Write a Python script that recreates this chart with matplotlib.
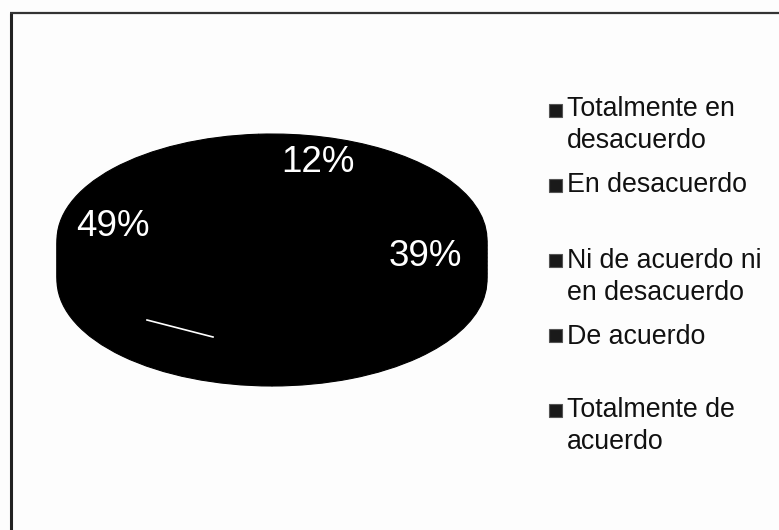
import matplotlib

matplotlib.use("Agg")
import matplotlib.pyplot as plt
from matplotlib.patches import Rectangle
from matplotlib.transforms import Affine2D

W, H = 779, 530

categories = [
    "Totalmente en\ndesacuerdo",
    "En desacuerdo",
    "Ni de acuerdo ni\nen desacuerdo",
    "De acuerdo",
    "Totalmente de\nacuerdo",
]
values = [12, 39, 0, 49, 0]
labels = ["12%", "39%", "", "49%", ""]
label_pos = [(318, 162), (425, 256), None, (113, 226), None]
legend_y = [110, 185, 262, 337, 411]
marker_y = [110, 185, 260, 335, 410]

plt.rcParams["font.family"] = ["Liberation Sans", "DejaVu Sans"]

fig = plt.figure(figsize=(W / 100, H / 100), dpi=100, facecolor="#fdfdfd")

# pixel coordinates, y pointing down, so everything lines up with the scan
ax = fig.add_axes([0, 0, 1, 1])

# the pie is stretched to an ellipse, stacked for the 3d side
cx, cy_top, rx, ry, depth = 272, 240, 215, 106, 40
for off in range(depth, -1, -4):
    wedges, _ = ax.pie(
        values,
        center=(cx, cy_top + off),
        radius=rx,
        colors=["black"] * len(values),
        startangle=90,
        counterclock=False,
        frame=True,
        wedgeprops={"edgecolor": "black", "linewidth": 0.8},
    )
    for w in wedges:
        w.set_transform(
            Affine2D()
            .translate(-cx, -(cy_top + off))
            .scale(1, ry / rx)
            .translate(cx, cy_top + off)
            + ax.transData
        )

ax.set_aspect("auto")
ax.set_xlim(0, W)
ax.set_ylim(H, 0)
ax.axis("off")

# the scan only keeps the left and top of the frame
ax.plot([11, 11], [530, 13], color="#222222", lw=2.2, solid_capstyle="butt")
ax.plot([10, 779], [13, 13], color="#333333", lw=1.6, solid_capstyle="butt")

# data labels
for lab, pos in zip(labels, label_pos):
    if pos:
        ax.text(pos[0], pos[1], lab, color="white", fontsize=26.5, ha="center", va="center")

# scratch of white on the side of the pie
ax.plot([147, 213], [320, 337], color="white", lw=1.2)

for name, y, my in zip(categories, legend_y, marker_y):
    ax.add_patch(Rectangle((549, my - 6.5), 13, 13, fc="#1a1a1a", ec="#555555", lw=0.8))
    ax.text(
        567,
        y + 15 * name.count("\n"),
        name,
        color="#111111",
        fontsize=19.3,
        ha="left",
        va="center",
        linespacing=1.26,
    )

fig.savefig("out.png", dpi=100, facecolor=fig.get_facecolor())
